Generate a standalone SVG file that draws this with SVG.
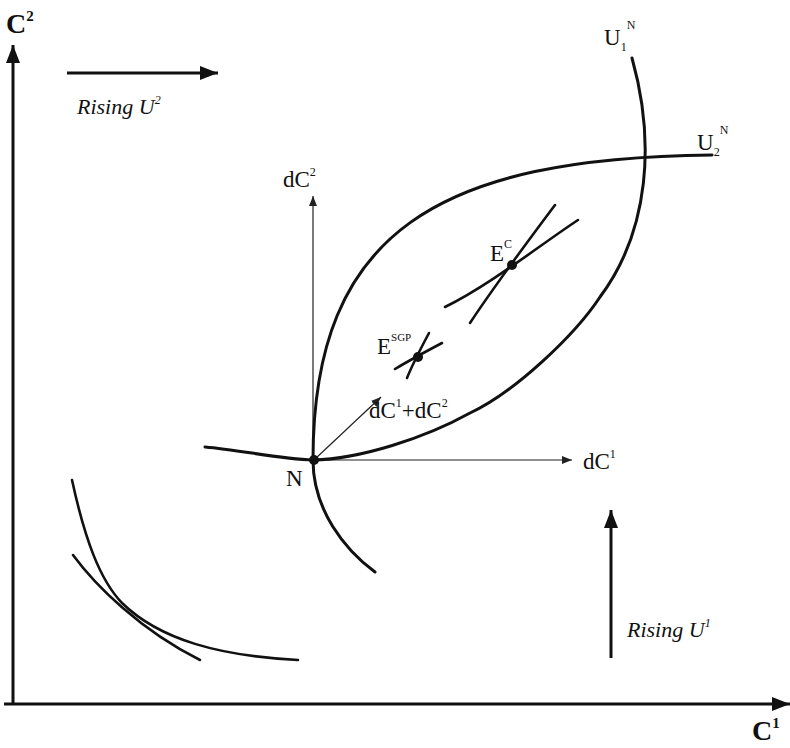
<svg xmlns="http://www.w3.org/2000/svg" width="790" height="748" viewBox="0 0 790 748">
<style>
.curve{fill:none;stroke:#111;stroke-width:3;stroke-linecap:round}
.thin{fill:none;stroke:#222;stroke-width:1.2}
.axis{fill:none;stroke:#111;stroke-width:3}
.lbl{font-family:"Liberation Serif",serif;font-size:23px;fill:#111}
.ax{font-family:"Liberation Serif",serif;font-size:28px;font-weight:bold;fill:#111}
.it{font-family:"Liberation Serif",serif;font-size:22px;font-style:italic;fill:#111}
.sup{font-size:12px}
</style>
<defs>
<marker id="big" markerUnits="userSpaceOnUse" markerWidth="20" markerHeight="16" refX="18" refY="8" orient="auto"><path d="M0,1 L18,8 L0,15 Z" fill="#111"/></marker>
<marker id="small" markerUnits="userSpaceOnUse" markerWidth="12" markerHeight="10" refX="10" refY="5" orient="auto"><path d="M0,1 L10,5 L0,9 Z" fill="#222"/></marker>
</defs>
<rect width="790" height="748" fill="#fff"/>
<g id="connectors">
<line class="axis" x1="13" y1="704" x2="13" y2="45" marker-end="url(#big)"/>
<line class="axis" x1="4" y1="704" x2="790" y2="704" marker-end="url(#big)"/>
<line class="axis" x1="67" y1="73" x2="218" y2="73" marker-end="url(#big)"/>
<line class="axis" x1="611" y1="658" x2="611" y2="510" marker-end="url(#big)"/>
<line class="thin" x1="313" y1="460" x2="313" y2="196" marker-end="url(#small)"/>
<line class="thin" x1="313" y1="460" x2="572" y2="460" marker-end="url(#small)"/>
<line class="thin" x1="315" y1="459" x2="381" y2="397" marker-end="url(#small)"/>
</g>
<g id="U2">
<path class="curve" d="M712,155 C440,158 313,230 313,460 C313,510 345,550 375,572"/>
</g>
<g id="U1">
<path class="curve" d="M632,58 C655,140 650,230 600,297 C575,335 515,392 470,413 C425,438 360,459 313,460 C280,459 240,450 205,447"/>
</g>
<g id="leftcurves">
<path class="curve" style="stroke-width:2.6" d="M72,480 C85,540 100,580 122,603 C160,640 220,656 298,660"/>
<path class="curve" style="stroke-width:2.6" d="M73,555 C95,585 140,630 200,660"/>
</g>
<g id="EC">
<path class="curve" style="stroke-width:2.6" d="M445,307 C490,285 540,245 578,220"/>
<path class="curve" style="stroke-width:2.6" d="M470,323 C495,285 525,245 555,205"/>
<circle cx="512" cy="265" r="5" fill="#111"/>
<text class="lbl" x="490" y="261">E<tspan class="sup" dy="-13">C</tspan></text>
</g>
<g id="ESGP">
<path class="curve" style="stroke-width:2.6" d="M395,369 C410,360 425,352 442,343"/>
<path class="curve" style="stroke-width:2.6" d="M407,378 C413,363 421,348 429,333"/>
<circle cx="418" cy="357" r="5" fill="#111"/>
<text class="lbl" x="377" y="354">E<tspan class="sup" style="font-size:11px" dy="-13">SGP</tspan></text>
</g>
<g id="N">
<circle cx="314" cy="460" r="5" fill="#111"/>
<text class="lbl" x="286" y="486">N</text>
</g>
<g id="labels">
<text class="ax" x="6" y="33">C<tspan style="font-size:15px" dy="-12">2</tspan></text>
<text class="ax" x="752" y="740">C<tspan style="font-size:15px" dy="-12">1</tspan></text>
<text class="it" x="77" y="114">Rising U<tspan class="sup" dy="-10">2</tspan></text>
<text class="it" x="627" y="637">Rising U<tspan class="sup" dy="-10">1</tspan></text>
<text class="lbl" x="604" y="45">U<tspan style="font-size:12px" dy="6">1</tspan><tspan style="font-size:12px" dy="-22">N</tspan></text>
<text class="lbl" x="697" y="150">U<tspan style="font-size:12px" dy="6">2</tspan><tspan style="font-size:12px" dy="-22">N</tspan></text>
<text class="lbl" x="283" y="187">dC<tspan class="sup" dy="-11">2</tspan></text>
<text class="lbl" x="583" y="469">dC<tspan class="sup" dy="-11">1</tspan></text>
<text class="lbl" x="369" y="418">dC<tspan class="sup" dy="-11">1</tspan><tspan dy="11">+dC</tspan><tspan class="sup" dy="-11">2</tspan></text>
</g>
</svg>
